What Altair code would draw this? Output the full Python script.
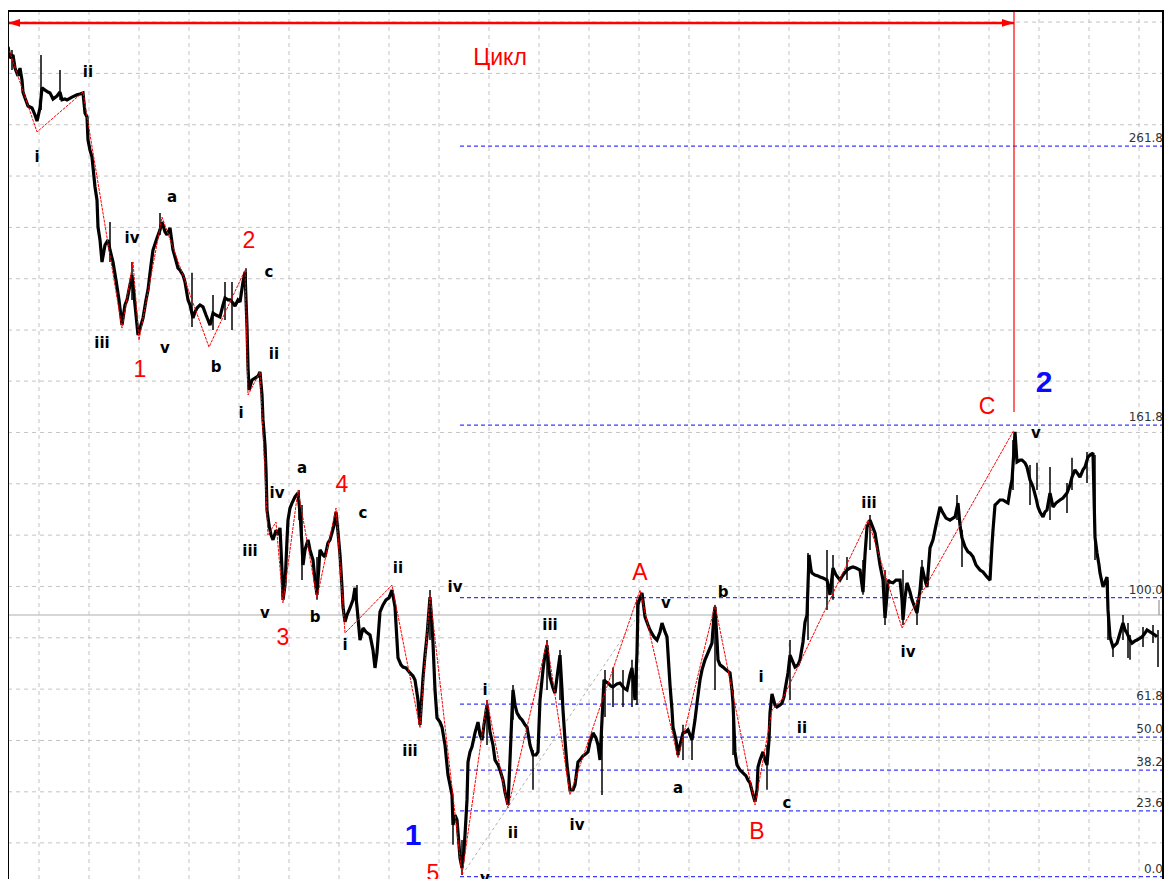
import altair as alt
import pandas as pd

# ---------------- data (time index t, price in Fibonacci-% units) ----------------
PRICE = [
    (8, 297.4), (10, 293.4), (13, 294.5), (15, 289.8), (18, 287.0), (20, 289.8), (22, 285.5), (23, 281.2),
    (25, 279.1), (28, 276.2), (32, 275.5), (35, 273.0), (37, 270.8), (40, 275.5), (42, 282.7), (45, 281.9),
    (48, 281.2), (50, 280.9), (53, 278.7), (57, 279.8), (60, 281.2), (62, 278.4), (65, 278.7), (67, 278.4),
    (72, 279.4), (77, 280.2), (80, 280.5), (83, 280.9),
    (85, 273.7), (87, 272.3), (88, 264.0), (90, 260.4), (92, 257.9), (95, 247.2), (97, 242.5), (98, 232.8),
    (100, 228.2), (102, 220.3), (105, 226.4), (108, 228.2), (110, 224.6), (113, 220.3), (116, 213.8),
    (119, 206.7), (122, 197.7), (125, 204.9), (127, 206.7), (130, 212.1), (132, 215.6), (135, 204.9),
    (138, 194.1), (141, 197.7), (143, 200.2), (146, 206.7), (148, 210.3), (151, 219.2), (153, 224.6),
    (157, 228.9), (160, 231.8), (162, 234.6), (165, 231.1), (167, 230.0), (170, 232.5), (173, 224.6),
    (175, 222.1), (178, 218.1), (180, 217.4), (183, 215.6), (185, 213.1), (188, 206.7), (190, 204.9),
    (193, 200.2), (195, 202.4), (197, 203.8), (200, 204.9), (203, 204.2), (206, 201.3), (208, 199.5),
    (210, 197.7), (213, 202.0), (216, 201.3), (220, 200.6), (223, 204.9), (225, 207.4), (228, 206.7),
    (230, 206.7), (233, 205.6), (235, 204.5), (238, 206.7), (240, 206.0), (243, 213.1), (245, 216.7),
    (247, 197.0), (248, 182.7), (249, 174.4), (252, 178.0), (255, 178.7), (258, 179.4), (260, 180.9),
    (262, 172.6), (263, 163.7), (265, 154.7), (266, 145.8), (267, 131.4), (269, 126.0), (271, 122.5),
    (273, 120.7), (276, 124.2), (278, 122.5), (280, 125.0), (282, 109.9), (283, 99.2), (285, 104.5),
    (287, 120.7), (288, 127.8), (290, 132.1), (292, 133.9), (295, 136.1), (298, 137.5), (300, 130.3),
    (302, 118.9), (303, 111.7), (305, 117.1), (308, 120.7), (310, 117.1), (313, 113.5), (315, 106.3),
    (317, 101.0), (319, 111.7), (320, 117.1), (323, 115.3), (325, 114.6), (328, 119.6), (330, 120.7),
    (332, 123.2), (334, 126.0), (336, 130.7), (338, 123.5), (340, 115.3), (342, 103.8), (343, 96.7),
    (345, 91.3), (347, 93.8), (350, 96.3), (353, 99.2), (355, 103.5), (357, 96.7), (360, 84.8),
    (363, 89.1), (366, 87.7), (370, 86.6), (373, 81.2), (375, 74.8), (377, 80.2), (380, 94.9),
    (383, 97.4), (386, 99.2), (389, 99.9), (392, 102.7), (395, 96.7), (398, 78.4), (401, 75.9),
    (403, 75.1), (406, 74.8), (410, 73.0), (413, 71.9), (415, 70.5), (418, 63.3), (420, 54.4),
    (423, 71.2), (425, 79.4), (427, 86.3), (430, 100.2), (432, 90.2), (433, 83.7), (435, 66.9),
    (437, 56.9), (440, 55.4), (442, 53.6), (445, 47.2), (448, 36.4), (450, 32.9), (452, 29.3),
    (453, 18.5), (455, 22.1), (457, 20.3), (459, 11.4), (460, 6.7), (462, 3.1), (464, 9.6), (465, 14.9),
    (467, 27.5), (468, 41.1), (470, 44.7), (472, 46.5), (475, 51.5), (478, 55.4), (480, 50.8),
    (482, 49.0), (484, 54.4), (487, 61.5), (490, 51.9), (493, 47.2), (495, 41.8), (498, 40.0),
    (500, 38.2), (503, 34.6), (505, 30.3), (508, 25.7), (510, 41.8), (512, 59.0), (513, 66.9),
    (515, 61.5), (517, 58.7), (520, 56.9), (522, 56.2), (525, 54.4), (527, 53.6), (530, 47.2),
    (533, 43.6), (536, 43.6), (538, 44.7), (540, 63.3), (543, 74.1), (545, 79.4), (547, 83.0),
    (549, 74.1), (550, 71.6), (553, 67.6), (555, 65.8), (558, 74.1), (560, 79.4), (562, 66.9),
    (563, 59.7), (565, 49.0), (567, 40.0), (570, 31.1), (573, 31.1), (575, 32.9), (578, 41.1),
    (580, 41.8), (583, 43.3), (586, 44.0), (588, 44.7), (590, 48.3), (593, 51.5), (596, 49.7),
    (598, 47.2), (600, 41.8), (602, 56.2), (604, 70.5), (606, 69.8), (608, 69.4), (611, 68.3),
    (613, 68.0), (617, 69.1), (620, 69.4), (624, 67.6), (627, 66.9), (630, 72.3), (632, 74.8),
    (635, 63.3), (637, 80.2), (638, 97.4), (640, 99.9), (642, 101.7), (645, 93.1), (648, 90.2),
    (650, 88.4), (654, 85.9), (657, 84.8), (660, 87.7), (662, 90.9), (665, 87.7), (667, 85.9),
    (670, 68.7), (672, 59.7), (673, 53.6), (676, 49.0), (678, 43.6), (680, 47.2), (683, 51.5),
    (686, 51.9), (688, 52.6), (690, 50.8), (692, 49.0), (695, 56.2), (697, 62.2), (700, 70.5),
    (702, 74.1), (705, 77.7), (707, 79.4), (710, 82.0), (712, 83.7), (714, 93.8), (715, 96.7),
    (717, 84.8), (718, 77.7), (720, 75.9), (723, 75.1), (726, 74.1), (730, 73.0), (732, 66.9),
    (733, 62.2), (735, 44.7), (737, 40.0), (740, 38.2), (743, 37.2), (746, 36.1), (748, 34.6),
    (750, 33.6), (753, 29.3), (755, 26.8), (757, 31.1), (758, 39.3), (760, 41.8), (763, 44.7),
    (765, 41.8), (767, 40.0), (769, 49.0), (770, 58.7), (772, 65.5), (775, 61.5), (777, 60.8),
    (780, 61.5), (782, 62.2), (784, 64.4), (785, 66.9), (788, 73.0), (790, 79.4), (792, 77.7),
    (795, 75.1), (798, 75.9), (800, 77.7), (803, 84.1), (805, 91.2), (807, 93.8), (808, 104.5),
    (809, 115.3), (811, 109.9), (812, 108.8), (815, 108.1), (818, 107.8), (820, 107.4), (823, 107.0),
    (827, 106.3), (830, 101.0), (833, 110.6), (836, 108.1), (840, 106.3), (843, 108.1), (847, 109.9),
    (850, 110.6), (853, 111.0), (856, 110.6), (860, 109.9), (862, 104.5), (863, 102.0), (865, 115.3),
    (867, 125.3), (870, 127.8), (873, 125.0), (875, 123.2), (878, 116.4), (880, 111.7), (883, 106.3),
    (885, 92.7), (887, 101.0), (888, 106.3), (890, 105.6), (893, 105.3), (896, 106.3), (900, 106.3),
    (902, 99.2), (903, 92.0), (905, 99.9), (907, 105.3), (910, 102.0), (912, 99.2), (915, 96.3),
    (917, 94.5), (920, 102.7), (922, 111.0), (925, 106.3), (927, 103.8), (930, 117.8), (933, 120.7),
    (936, 126.0), (940, 132.5), (943, 130.3), (946, 128.5), (950, 127.8), (953, 128.5), (955, 128.9),
    (958, 133.9), (960, 126.0), (962, 121.4), (965, 118.2), (968, 116.4), (970, 116.0), (973, 114.6),
    (976, 111.7), (980, 109.9), (983, 109.2), (987, 107.4), (990, 106.3), (992, 118.9), (993, 124.2),
    (995, 133.2), (997, 133.9), (1000, 135.0), (1003, 135.0), (1006, 134.3), (1008, 133.9),
    (1010, 138.6), (1012, 142.2), (1014, 152.9), (1015, 159.4), (1017, 148.6), (1020, 149.3),
    (1022, 149.3), (1025, 148.3), (1027, 146.8), (1030, 142.2), (1033, 139.7), (1036, 135.7),
    (1038, 132.5), (1040, 130.7), (1043, 128.9), (1045, 130.7), (1047, 131.4), (1050, 137.5),
    (1053, 132.5), (1056, 133.9), (1060, 135.0), (1063, 135.7), (1067, 137.5), (1070, 140.4),
    (1072, 143.2), (1075, 145.8), (1078, 144.3), (1080, 143.2), (1083, 145.8), (1085, 146.8),
    (1088, 150.4), (1090, 151.1), (1093, 151.8), (1095, 121.7), (1097, 116.0), (1099, 111.7),
    (1100, 108.8), (1103, 103.8), (1105, 105.6), (1107, 107.4), (1108, 95.6), (1110, 85.9),
    (1113, 82.3), (1115, 83.0), (1117, 83.7), (1120, 87.3), (1123, 90.9), (1125, 88.4), (1127, 87.3),
    (1130, 84.8), (1132, 83.7), (1135, 84.5), (1137, 84.8), (1140, 85.5), (1142, 85.9), (1145, 87.3),
    (1147, 88.4), (1150, 87.7), (1152, 87.3), (1155, 86.6), (1157, 85.9),
]

# high/low wicks (t, low, high)
WICKS = [
    (12, 289.1, 296.3), (41, 274.8, 294.5), (60, 278.4, 289.1), (110, 220.3, 234.6), (132, 206.7, 220.3),
    (160, 230.0, 237.9), (192, 197.0, 216.4), (213, 195.9, 208.5), (225, 199.5, 213.1), (232, 195.9, 213.1),
    (246, 206.7, 218.1), (299, 127.8, 138.6), (302, 106.3, 133.2), (317, 99.2, 114.6), (357, 95.6, 104.5),
    (430, 84.8, 102.7), (453, 11.4, 27.5), (462, 0.6, 13.1), (487, 47.2, 63.3), (513, 56.2, 68.7),
    (533, 31.1, 45.4), (547, 66.9, 84.8), (560, 63.3, 81.2), (602, 29.3, 56.2), (605, 57.2, 74.1),
    (613, 60.8, 75.0), (623, 60.8, 74.1), (632, 60.8, 77.7), (637, 61.5, 99.2),
    (683, 41.8, 54.4), (692, 41.8, 50.8), (715, 66.9, 97.4), (733, 43.6, 66.9), (767, 31.1, 47.2),
    (790, 63.3, 84.8), (808, 84.8, 116.0), (827, 95.6, 117.1), (833, 99.2, 115.3), (847, 106.3, 114.6),
    (863, 101.0, 113.5), (870, 117.1, 129.6), (885, 90.2, 109.9), (903, 90.2, 109.9), (917, 90.2, 99.2),
    (922, 102.7, 113.5), (957, 127.8, 136.8), (962, 111.0, 124.2), (1013, 138.6, 156.5),
    (1030, 133.2, 147.5), (1037, 138.6, 148.3), (1050, 127.8, 146.8), (1067, 130.3, 141.1),
    (1072, 138.6, 150.1), (1087, 141.1, 152.2), (1095, 113.5, 151.1), (1108, 84.8, 106.3),
    (1113, 78.7, 82.3), (1123, 84.8, 93.8), (1128, 78.4, 90.9), (1130, 77.7, 86.6), (1143, 82.3, 89.5),
    (1153, 83.7, 90.2), (1158, 75.1, 88.4),
]

# Elliott wave zigzag pivots
ZIGZAG = [
    (8, 297.4), (37, 266.9), (83, 281.2), (122, 196.6), (133, 220.3), (139, 192.3), (162, 236.4),
    (209, 189.8), (245, 217.4), (248, 172.6), (260, 180.9), (268, 122.5), (276, 127.1), (283, 98.1),
    (298, 138.6), (317, 99.9), (336, 132.1), (345, 87.3), (392, 104.5), (420, 53.3), (430, 101.0),
    (462, 0.6), (487, 63.3), (508, 24.6), (547, 84.1), (570, 29.3), (640, 102.7), (678, 42.5),
    (715, 97.4), (755, 25.7), (772, 59.7), (783, 64.0), (868, 127.8), (902, 89.1), (1014, 160.1),
]

GUIDE_T = [462, 635]
GUIDE_V = [0.6, 92.0]

FIB_LEVELS = [0.0, 23.6, 38.2, 50.0, 61.8, 100.0, 161.8, 261.8]
FIB_LABELS = ["0.0", "23.6", "38.2", "50.0", "61.8", "100.0", "161.8", "261.8"]
FIB_START, FIB_END, FIB_LABEL_T = 460, 1164, 1163

GRID_T = [39 + 50 * k for k in range(23)]
GRID_V = [306.3, 287.9, 269.5, 251.1, 232.7, 214.3, 195.9, 177.6, 159.2, 140.8, 122.4,
          104.0, 85.6, 67.2, 48.8, 30.4, 12.1]
LAST_PRICE = 93.8
LAST_TICK = (1159, 93.8, 99.2)

CYCLE_START, CYCLE_END, CYCLE_LEVEL = 8, 1014, 306.0
CYCLE_TEXT = ("Цикл", 500, 293.4)
CYCLE_MARK_LOW = 166.5

SMALL_LABELS = [
    ("ii", 88, 288.4), ("i", 37, 257.9), ("a", 172, 243.6), ("iv", 132, 228.9), ("c", 269, 216.7),
    ("iii", 102, 191.3), ("v", 165, 189.5), ("b", 216, 182.7), ("ii", 274, 187.3), ("i", 241, 166.2),
    ("a", 302, 146.5), ("iv", 277, 137.5), ("c", 363, 130.3), ("iii", 250, 116.7), ("v", 265, 94.5),
    ("b", 315, 93.1), ("ii", 398, 110.6), ("iv", 455, 103.8), ("i", 345, 83.0), ("iii", 410, 45.0),
    ("v", 485, -0.5), ("i", 485, 66.9), ("iii", 550, 90.2), ("ii", 513, 15.7), ("iv", 577, 18.5),
    ("v", 666, 98.1), ("b", 723, 102.0), ("a", 678, 31.8), ("i", 761, 71.6), ("ii", 802, 53.3),
    ("c", 787, 26.4), ("iii", 869, 133.9), ("iv", 908, 80.5), ("v", 1036, 159.0),
]
RED_LABELS = [
    ("2", 249, 227.8), ("1", 140, 181.6), ("4", 342, 140.4), ("3", 283, 85.5), ("5", 433, 1.0),
    ("A", 640, 108.8), ("B", 757, 16.0), ("C", 987, 168.3),
]
BLUE_LABELS = [("1", 413, 14.6), ("2", 1044, 176.9)]

# ---------------- chart ----------------
W, H = 1156, 868
T_MIN, T_MAX = 8, 8 + W
V_MIN, V_MAX = -0.85, 310.26
XS = alt.Scale(domain=[T_MIN, T_MAX], nice=False, zero=False)
YS = alt.Scale(domain=[V_MIN, V_MAX], nice=False, zero=False)


def X(f="t"):
    return alt.X(f"{f}:Q", scale=XS, axis=None)


def Y(f="v"):
    return alt.Y(f"{f}:Q", scale=YS, axis=None)


price_df = pd.DataFrame(PRICE, columns=["t", "v"])
wick_df = pd.DataFrame(WICKS, columns=["t", "lo", "hi"])
zz_df = pd.DataFrame(ZIGZAG, columns=["t", "v"])
guide_df = pd.DataFrame({"t": GUIDE_T, "v": GUIDE_V})
fib_df = pd.DataFrame({"v": FIB_LEVELS, "label": FIB_LABELS, "t0": FIB_START, "t1": FIB_END,
                       "tl": FIB_LABEL_T})
gridx_df = pd.DataFrame({"t": GRID_T})
gridy_df = pd.DataFrame({"v": GRID_V})
small_df = pd.DataFrame(SMALL_LABELS, columns=["text", "t", "v"])
red_df = pd.DataFrame(RED_LABELS, columns=["text", "t", "v"])
blue_df = pd.DataFrame(BLUE_LABELS, columns=["text", "t", "v"])

grid_x = alt.Chart(gridx_df).mark_rule(color="#c4c4c4", strokeDash=[4, 4], strokeWidth=1).encode(x=X())
grid_y = alt.Chart(gridy_df).mark_rule(color="#c4c4c4", strokeDash=[4, 4], strokeWidth=1).encode(y=Y())
last_line = alt.Chart(pd.DataFrame({"v": [LAST_PRICE]})).mark_rule(color="#c8c8c8", strokeWidth=1.5).encode(y=Y())
last_tick = alt.Chart(pd.DataFrame([LAST_TICK], columns=["t", "lo", "hi"])).mark_rule(
    color="#808080", strokeWidth=1).encode(x=X(), y=Y("lo"), y2="hi")

fib_lines = alt.Chart(fib_df).mark_rule(color="#3a3aff", strokeDash=[4, 3], strokeWidth=1.2).encode(
    x=X("t0"), x2="t1", y=Y())
fib_text = alt.Chart(fib_df).mark_text(align="right", baseline="alphabetic", dy=-4, fontSize=12,
                                       font="DejaVu Sans", color="#333333").encode(
    x=X("tl"), y=Y(), text="label:N")

guide = alt.Chart(guide_df).mark_line(color="#b0b0b0", strokeDash=[3, 3], strokeWidth=1).encode(x=X(), y=Y())

wicks = alt.Chart(wick_df).mark_rule(color="#000000", strokeWidth=1.5).encode(x=X(), y=Y("lo"), y2="hi")
price = alt.Chart(price_df).mark_line(color="#000000", strokeWidth=3.2, strokeJoin="miter",
                                      strokeMiterLimit=2).encode(x=X(), y=Y())
zigzag = alt.Chart(zz_df).mark_line(color="#ff0000", strokeWidth=1, strokeDash=[3, 1]).encode(x=X(), y=Y())

cyc_rule = alt.Chart(pd.DataFrame({"t": [CYCLE_START], "t1": [CYCLE_END], "v": [CYCLE_LEVEL]})).mark_rule(
    color="#ff0000", strokeWidth=2.5).encode(x=X(), x2="t1", y=Y())
arrow_df = pd.DataFrame({"t": [CYCLE_START + 6, CYCLE_END - 6], "v": [CYCLE_LEVEL, CYCLE_LEVEL],
                         "dir": ["left", "right"]})
arrow_l = alt.Chart(arrow_df[arrow_df.dir == "left"]).mark_point(
    shape="M-1,0L1,-0.65L1,0.65Z", filled=True, size=144, color="#ff0000", opacity=1).encode(x=X(), y=Y())
arrow_r = alt.Chart(arrow_df[arrow_df.dir == "right"]).mark_point(
    shape="M1,0L-1,-0.65L-1,0.65Z", filled=True, size=144, color="#ff0000", opacity=1).encode(x=X(), y=Y())
cyc_vert = alt.Chart(pd.DataFrame({"t": [CYCLE_END], "lo": [CYCLE_MARK_LOW], "hi": [V_MAX]})).mark_rule(
    color="#ff0000", strokeWidth=1.2).encode(x=X(), y=Y("lo"), y2="hi")
cyc_text = alt.Chart(pd.DataFrame([CYCLE_TEXT], columns=["text", "t", "v"])).mark_text(
    fontSize=23, font="Liberation Sans", color="#ff0000", baseline="middle").encode(x=X(), y=Y(), text="text:N")

small_text = alt.Chart(small_df).mark_text(fontSize=15, font="DejaVu Sans", fontWeight="bold",
                                           color="#000000", baseline="middle").encode(
    x=X(), y=Y(), text="text:N")
red_text = alt.Chart(red_df).mark_text(fontSize=23, font="Liberation Sans", color="#ff0000",
                                       baseline="middle").encode(x=X(), y=Y(), text="text:N")
blue_text = alt.Chart(blue_df).mark_text(fontSize=30, font="Liberation Sans", fontWeight="bold",
                                         color="#0a0aff", baseline="middle").encode(x=X(), y=Y(), text="text:N")

frame = alt.Chart(pd.DataFrame({"k": [0]})).mark_rule(color="#000000", strokeWidth=2)
frame_top = frame.encode(x=alt.value(0), x2=alt.value(W), y=alt.value(0))
frame_left = frame.encode(x=alt.value(0), y=alt.value(0), y2=alt.value(H))
frame_right = frame.encode(x=alt.value(W - 1), y=alt.value(0), y2=alt.value(H))

chart = alt.layer(
    grid_x, grid_y, last_line, fib_lines, fib_text, guide, wicks, price, zigzag, last_tick,
    cyc_rule, arrow_l, arrow_r, cyc_vert, cyc_text, small_text, red_text, blue_text,
    frame_top, frame_left, frame_right,
).properties(
    width=W, height=H,
    padding={"left": 0, "top": 3, "right": 0, "bottom": 0},
    autosize=alt.AutoSizeParams(type="none"),
    background="#ffffff",
).configure_view(stroke=None)

chart.save("out.html", embed_options={"renderer": "svg", "actions": False})
